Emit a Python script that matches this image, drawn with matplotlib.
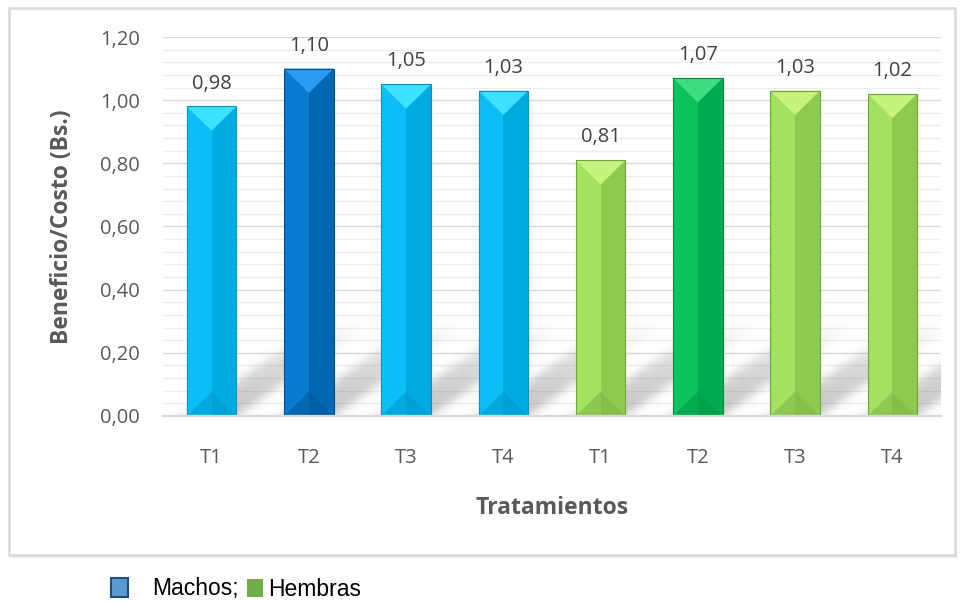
import numpy as np
import matplotlib
matplotlib.use('Agg')
import matplotlib.pyplot as plt
from matplotlib.patches import Rectangle, Polygon

# data
treatments = ['T1', 'T2', 'T3', 'T4', 'T1', 'T2', 'T3', 'T4']
groups = ['Machos', 'Machos', 'Machos', 'Machos', 'Hembras', 'Hembras', 'Hembras', 'Hembras']
values = [0.98, 1.10, 1.05, 1.03, 0.81, 1.07, 1.03, 1.02]
y_ticks = [0.0, 0.2, 0.4, 0.6, 0.8, 1.0, 1.2]

# face colours: (left half, right half, top bevel, bottom bevel, edge)
light_blue = ('#0CBEF6', '#00AAE2', '#3CE2FF', '#0098CF', '#0A8FC0')
dark_blue = ('#0A7BD0', '#0068B3', '#2B9CF2', '#005A9C', '#004F8A')
light_green = ('#A2E25E', '#8DCB50', '#C6F27E', '#80B847', '#6FA33C')
dark_green = ('#0CC45E', '#00AA50', '#3EDE80', '#009A45', '#008A3C')
bar_colors = [light_blue, dark_blue, light_blue, light_blue,
              light_green, dark_green, light_green, light_green]

plt.rcParams['font.family'] = ['Open Sans', 'DejaVu Sans']

fig = plt.figure(figsize=(9.61, 6.01), dpi=100)
fig.patch.set_facecolor('white')

# outer chart frame with a soft shadow
W, H = 961.0, 601.0
for i, a in enumerate([0.10, 0.07, 0.04]):
    fig.patches.append(Rectangle((12 / W, (601 - 557 - i) / H), 946 / W, 2 / H,
                                 transform=fig.transFigure, facecolor='#808080',
                                 alpha=a, edgecolor='none', zorder=-2))
fig.patches.append(Rectangle((9 / W, (601 - 555) / H), 946 / W, 547 / H,
                             transform=fig.transFigure, facecolor='white',
                             edgecolor='#D9D9D9', linewidth=1.8, zorder=-1))

ax = fig.add_axes([163 / W, (601 - 416) / H, 778 / W, 379 / H])
ax.set_facecolor('none')
x = np.arange(len(values))
bw = 0.51

# grid lines
for v in np.arange(0, 1.2001, 0.04):
    major = abs(v / 0.2 - round(v / 0.2)) < 1e-6
    ax.axhline(v, color='#D9D9D9' if major else '#EDEDED',
               lw=1.0 if major else 0.9, zorder=0.5)

# perspective shadow of each bar, skewed up and to the right, soft edges
px_x, px_y = 97.25, 316.0          # pixels per data unit
slope, length = 0.7, 72.0           # shadow slope and length in pixels
gx = np.linspace(-0.5, len(values) - 0.5, 900)
gy = np.linspace(0, 0.36, 160)
GX, GY = np.meshgrid(gx, gy)
Xp, Yp = GX * px_x, GY * px_y
Xs = Xp - Yp / slope


def sig(t):
    return 1.0 / (1.0 + np.exp(-t))


shade = np.zeros_like(GX)
for xi in x:
    xl, xr = (xi - bw / 2) * px_x, (xi + bw / 2) * px_x
    s = sig((Xs - xl) / 5) * sig((xr - Xs) / 5) * sig((length - Yp) / 9)
    s *= (1 - 0.45 * np.clip(Yp / length, 0, 1))
    shade = np.maximum(shade, s)
rgba = np.zeros(GX.shape + (4,))
rgba[..., :3] = 0.35
rgba[..., 3] = 0.36 * shade
ax.imshow(rgba, extent=(gx[0], gx[-1], gy[0], gy[-1]), origin='lower',
          aspect='auto', interpolation='bilinear', zorder=0.8)

# bars with bevel look
bev_y = 0.077
for xi, v, c in zip(x, values, bar_colors):
    left, right, top, bottom, edge = c
    xl, xr, xm = xi - bw / 2, xi + bw / 2, xi
    ax.bar(xi, v, width=bw, color=left, edgecolor='none', zorder=2)
    ax.add_patch(Rectangle((xm, 0), bw / 2, v, facecolor=right,
                           edgecolor='none', zorder=2.1))
    ax.add_patch(Polygon([(xl, v), (xr, v), (xm, v - bev_y)], closed=True,
                         facecolor=top, edgecolor='none', zorder=2.2))
    ax.add_patch(Polygon([(xl, 0), (xr, 0), (xm, bev_y)], closed=True,
                         facecolor=bottom, edgecolor='none', alpha=0.6, zorder=2.2))
    ax.add_patch(Rectangle((xl, 0), bw, v, facecolor='none',
                           edgecolor=edge, linewidth=0.8, zorder=2.3))
    ax.annotate(f'{v:.2f}'.replace('.', ','), (xi, v), xytext=(0, 16.5),
                textcoords='offset points', ha='center', va='center',
                fontsize=14.5, color='#404040')

ax.set_xlim(-0.5, len(values) - 0.5)
ax.set_ylim(0, 1.2)

for s in ['top', 'right', 'left']:
    ax.spines[s].set_visible(False)
ax.spines['bottom'].set_color('#D9D9D9')
ax.spines['bottom'].set_linewidth(1.6)
ax.spines['bottom'].set_zorder(3)

ax.set_xticks(x)
ax.set_xticklabels(treatments)
ax.set_yticks(y_ticks)
ax.set_yticklabels([f'{t:.2f}'.replace('.', ',') for t in y_ticks])
ax.tick_params(axis='both', length=0, labelsize=14.5, labelcolor='#595959')
ax.tick_params(axis='x', pad=23)
ax.tick_params(axis='y', pad=16.5)

ax.set_xlabel('Tratamientos', fontsize=16.5, fontweight='bold', color='#595959')
ax.set_ylabel('Beneficio/Costo (Bs.)', fontsize=16.5, fontweight='bold',
              color='#595959')
ax.xaxis.set_label_coords(0.5, (416 - 508) / 379)
ax.xaxis.label.set_va('center')
ax.yaxis.set_label_coords((62 - 163) / 778, 0.5)
ax.yaxis.label.set_va('center')

# legend below the frame
fig.patches.append(Rectangle((111 / W, (601 - 597) / H), 17 / W, 19 / H,
                             transform=fig.transFigure, facecolor='#5B9BD5',
                             edgecolor='#1F4E79', linewidth=1.5))
fig.text(152 / W, (601 - 589) / H, 'Machos;', fontsize=16.5, va='center',
         family=['Liberation Sans', 'DejaVu Sans'], color='black')
fig.patches.append(Rectangle((247 / W, (601 - 597) / H), 16 / W, 18 / H,
                             transform=fig.transFigure, facecolor='#70AD47',
                             edgecolor='none'))
fig.text(268 / W, (601 - 589) / H, 'Hembras', fontsize=16.5, va='center',
         family=['Liberation Sans', 'DejaVu Sans'], color='black')

fig.savefig('out.png', dpi=100)
